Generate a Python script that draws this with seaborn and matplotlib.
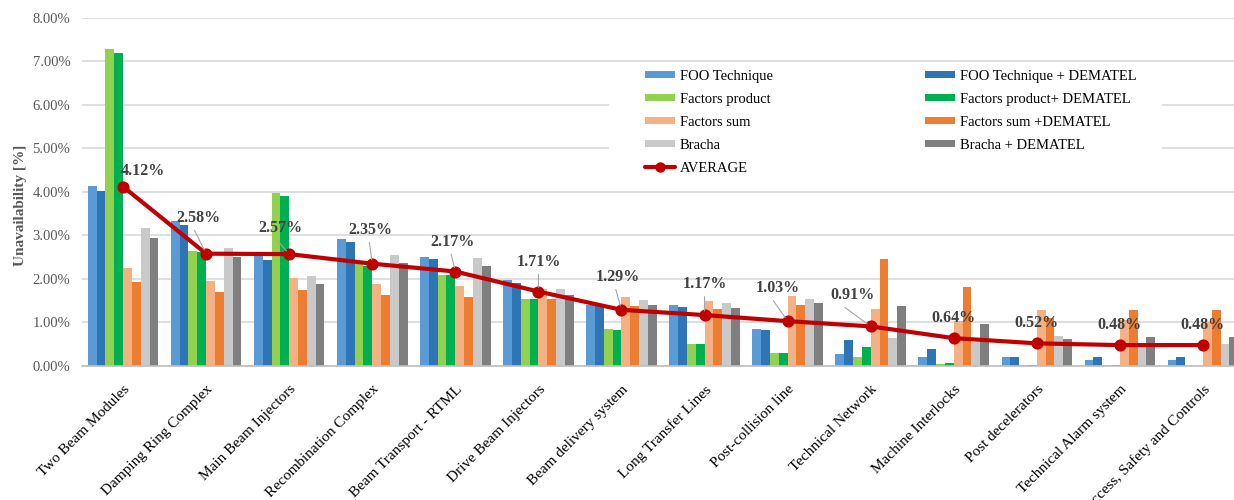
import numpy as np
import pandas as pd
import matplotlib
matplotlib.use("Agg")
import matplotlib.pyplot as plt
from matplotlib.ticker import PercentFormatter, MultipleLocator
from matplotlib.lines import Line2D
from matplotlib.patches import Patch, Rectangle
import seaborn as sns

# ---- data (unavailability, %) ----
systems = [
    "Two Beam Modules", "Damping Ring Complex", "Main Beam Injectors",
    "Recombination Complex", "Beam Transport - RTML", "Drive Beam Injectors",
    "Beam delivery system", "Long Transfer Lines", "Post-collision line",
    "Technical Network", "Machine Interlocks", "Post decelerators",
    "Technical Alarm system", "Access, Safety and Controls",
]

methods = [
    "FOO Technique", "FOO Technique + DEMATEL",
    "Factors product", "Factors product+ DEMATEL",
    "Factors sum", "Factors sum +DEMATEL",
    "Bracha", "Bracha + DEMATEL",
]

foo = [4.14, 3.33, 2.57, 2.92, 2.51, 1.98, 1.41, 1.40, 0.85, 0.28, 0.21, 0.21, 0.14, 0.14]
foo_dematel = [4.02, 3.24, 2.44, 2.84, 2.45, 1.91, 1.39, 1.36, 0.83, 0.59, 0.40, 0.21, 0.21, 0.21]
factors_product = [7.28, 2.65, 3.97, 2.34, 2.09, 1.55, 0.85, 0.51, 0.31, 0.21, 0.05, 0.03, 0.02, 0.00]
factors_product_dematel = [7.20, 2.61, 3.91, 2.30, 2.08, 1.54, 0.83, 0.51, 0.29, 0.43, 0.08, 0.03, 0.02, 0.00]
factors_sum = [2.24, 1.95, 2.02, 1.88, 1.84, 1.78, 1.58, 1.50, 1.61, 1.31, 1.04, 1.29, 1.06, 1.02]
factors_sum_dematel = [1.94, 1.69, 1.75, 1.63, 1.59, 1.54, 1.37, 1.30, 1.39, 2.45, 1.81, 1.11, 1.29, 1.29]
bracha = [3.18, 2.70, 2.06, 2.56, 2.49, 1.78, 1.51, 1.44, 1.55, 0.65, 0.56, 0.68, 0.43, 0.51]
bracha_dematel = [2.93, 2.50, 1.89, 2.36, 2.30, 1.63, 1.39, 1.33, 1.44, 1.37, 0.97, 0.62, 0.67, 0.67]

average = [4.12, 2.58, 2.57, 2.35, 2.17, 1.71, 1.29, 1.17, 1.03, 0.91, 0.64, 0.52, 0.48, 0.48]

colors = ["#5B9BD5", "#2E75B6", "#92D050", "#00B050",
          "#F4B183", "#ED7D31", "#C9C9C9", "#7F7F7F"]
avg_color = "#C00000"

series = [foo, foo_dematel, factors_product, factors_product_dematel,
          factors_sum, factors_sum_dematel, bracha, bracha_dematel]
df = pd.DataFrame(
    [(s, m, v) for m, vals in zip(methods, series) for s, v in zip(systems, vals)],
    columns=["system", "method", "value"],
)

# ---- style ----
sns.set_theme(style="whitegrid")
plt.rcParams["font.family"] = ["Liberation Serif", "DejaVu Serif"]
plt.rcParams["font.size"] = 10.5

W, H = 1234, 500
ax_left, ax_width = 81.5, 1163.0      # plot area runs past the right edge
ax_bottom, ax_top = 366.0, 17.7
ax_h = ax_bottom - ax_top

fig = plt.figure(figsize=(W / 100, H / 100), dpi=100)
ax = fig.add_axes([ax_left / W, 1 - ax_bottom / H, ax_width / W, ax_h / H])


def ax_x(px):
    return (px - ax_left) / ax_width


def ax_y(py):
    return (ax_bottom - py) / ax_h


sns.barplot(
    data=df, x="system", y="value", hue="method",
    order=systems, hue_order=methods, palette=colors,
    width=0.85, saturation=1, errorbar=None, legend=False,
    linewidth=0, ax=ax,
)

sns.pointplot(
    x=systems, y=average, order=systems, color=avg_color,
    markers="o", linestyles="-", linewidth=3, markersize=6.5,
    errorbar=None, ax=ax,
)
for line in ax.lines:
    line.set_zorder(4)

# data labels for the average line (offsets in pixels, with leader lines)
offsets = [(20, 16), (-8, 36), (-9, 26), (-2, 34), (-3, 30), (0, 30), (-4, 33),
           (0, 31), (-10, 33), (-18, 31), (0, 20), (0, 20), (0, 20), (-1, 20)]
for i, (v, (dx, dy)) in enumerate(zip(average, offsets)):
    arrow = None
    if dy >= 25:
        arrow = dict(arrowstyle="-", color="#A6A6A6", lw=0.8,
                     shrinkA=1, shrinkB=3, relpos=(0.5 + dx / 60, 0.0))
    ax.annotate(f"{v:.2f}%", xy=(i, v), xytext=(dx, dy),
                textcoords="offset pixels", ha="center", va="center",
                fontsize=11.5, fontweight="bold", color="#404040",
                arrowprops=arrow, zorder=5)

# axes
ax.set_xlim(-0.5, len(systems) - 0.5)
ax.set_ylim(0, 8)
ax.yaxis.set_major_locator(MultipleLocator(1))
ax.yaxis.set_major_formatter(PercentFormatter(xmax=100, decimals=2))
ax.set_axisbelow(True)
ax.grid(axis="y", color="#D9D9D9", linewidth=1.2)
ax.grid(axis="x", visible=False)
for side in ["top", "left", "right"]:
    ax.spines[side].set_visible(False)
ax.spines["bottom"].set_color("#BFBFBF")
ax.spines["bottom"].set_linewidth(1.2)

ax.tick_params(axis="y", length=0, pad=8, labelsize=10.5, labelcolor="#595959")
ax.tick_params(axis="x", length=0, pad=12, labelsize=11, labelcolor="#000000")
ax.set_xticks(range(len(systems)))
ax.set_xticklabels(systems, rotation=45, ha="right", rotation_mode="anchor")
ax.set_xlabel("")
ax.set_ylabel("Unavailability [%]", fontsize=11, fontweight="bold", color="#595959")
ax.yaxis.set_label_coords(ax_x(27), ax_y(205))

# legend with a white panel behind it
ax.add_patch(Rectangle((ax_x(609), ax_y(190)),
                       ax_x(1162) - ax_x(609), ax_y(62) - ax_y(190),
                       transform=ax.transAxes, facecolor="white",
                       edgecolor="none", zorder=0.8))
handles = [Patch(facecolor=c, edgecolor="none") for c in colors]
avg_handle = Line2D([], [], color=avg_color, lw=3, marker="o", markersize=6.5)
order_handles = [handles[0], handles[2], handles[4], handles[6], avg_handle,
                 handles[1], handles[3], handles[5], handles[7]]
order_labels = [methods[0], methods[2], methods[4], methods[6], "AVERAGE",
                methods[1], methods[3], methods[5], methods[7]]
leg = ax.legend(order_handles, order_labels, ncol=2, frameon=False,
                loc="upper left", bbox_to_anchor=(ax_x(645), ax_y(70)),
                borderpad=0, borderaxespad=0, fontsize=10.5,
                handlelength=2.05, handleheight=0.4, handletextpad=0.35,
                labelspacing=0.68, columnspacing=10.4)
for t in leg.get_texts():
    t.set_color("#000000")

fig.savefig("out.png", dpi=100)
